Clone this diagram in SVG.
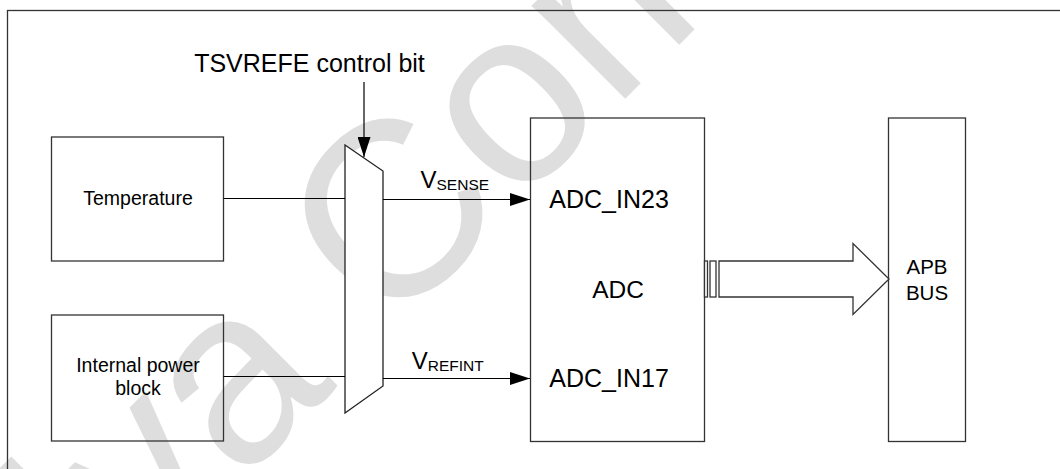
<svg xmlns="http://www.w3.org/2000/svg" width="1060" height="469" viewBox="0 0 1060 469">
<style>
  .box{fill:none;stroke:#333;stroke-width:1.3}
  .mux{fill:#fff;stroke:#222;stroke-width:1.3}
  .wire{fill:none;stroke:#000;stroke-width:1.2}
  .t{font-family:"Liberation Sans",Arial,sans-serif;fill:#000}
  .wm{font-family:"Liberation Sans",Arial,sans-serif;fill:#dedede}
</style>
<defs>
  <marker id="ah" viewBox="0 0 20 13" refX="20" refY="6.5" markerWidth="20" markerHeight="13" markerUnits="userSpaceOnUse" orient="auto">
    <path d="M0,0 L20,6.5 L0,13 Z" fill="#000"/>
  </marker>
</defs>
<rect width="1060" height="469" fill="#fff"/>
<g id="watermark">
  <text class="wm" font-size="250" transform="translate(112,612) rotate(-45)">iya Com</text>
</g>
<rect id="frame" x="7.5" y="10.5" width="1100" height="500" class="box"/>
<g id="temperature">
  <rect x="51.5" y="137" width="172" height="124" class="box"/>
  <text class="t" x="138" y="204.5" font-size="19.5" text-anchor="middle">Temperature</text>
</g>
<g id="internal-power">
  <rect x="51.5" y="315" width="172" height="126" class="box"/>
  <text class="t" x="138" y="372.3" font-size="19.5" text-anchor="middle">Internal power</text>
  <text class="t" x="138" y="395" font-size="19.5" text-anchor="middle">block</text>
</g>
<g id="mux">
  <polygon points="345,145 383,171 383,386 345,413" class="mux"/>
</g>
<g id="control-label">
  <text class="t" x="309.5" y="71.5" font-size="25" text-anchor="middle">TSVREFE control bit</text>
</g>
<g id="adc">
  <rect x="530.5" y="118" width="174" height="323.5" class="box" fill="#fff"/>
  <text class="t" x="549.3" y="208.3" font-size="25">ADC_IN23</text>
  <text class="t" x="618" y="297.7" font-size="24.5" text-anchor="middle">ADC</text>
  <text class="t" x="549.3" y="387.3" font-size="25">ADC_IN17</text>
</g>
<g id="apb-bus">
  <rect x="888.5" y="118" width="77" height="323.5" class="box"/>
  <text class="t" x="927" y="274" font-size="20.5" text-anchor="middle">APB</text>
  <text class="t" x="927" y="299.5" font-size="20.5" text-anchor="middle">BUS</text>
</g>
<g id="connectors">
  <path class="wire" d="M364,82 V157" marker-end="url(#ah)"/>
  <path class="wire" d="M223.5,198.5 H345"/>
  <path class="wire" d="M383,199.5 H530" marker-end="url(#ah)"/>
  <path class="wire" d="M223.5,376.5 H345"/>
  <path class="wire" d="M383,378.5 H530" marker-end="url(#ah)"/>
  <text class="t" x="420.5" y="188.3" font-size="24">V<tspan font-size="15.5" dy="1.7">SENSE</tspan></text>
  <text class="t" x="411.7" y="368.7" font-size="24">V<tspan font-size="15.5" dy="2.5">REFINT</tspan></text>
  <g id="bus-arrow" fill="#fff" stroke="#333" stroke-width="1.3">
    <rect x="704.5" y="261" width="3" height="36"/>
    <rect x="710" y="261" width="6" height="36"/>
    <polygon points="719,261 853,261 853,243.5 889,279 853,314.5 853,297 719,297"/>
  </g>
</g>
</svg>
